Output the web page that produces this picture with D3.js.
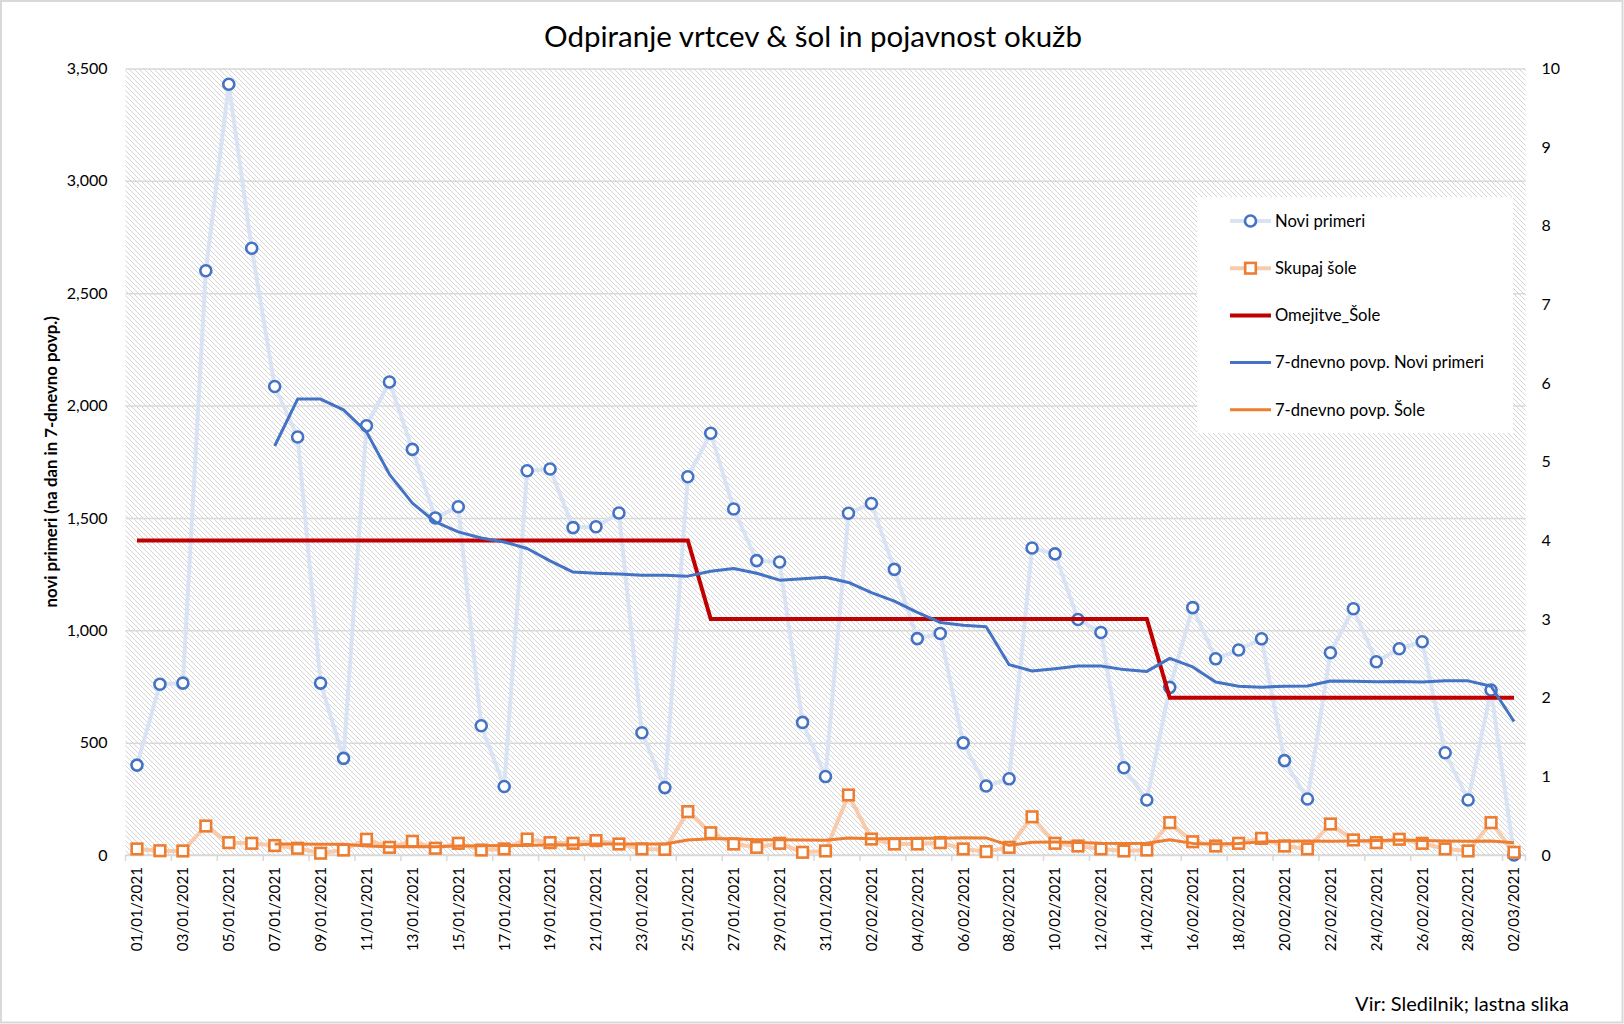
<!DOCTYPE html>
<html><head><meta charset="utf-8">
<script src="https://cdn.jsdelivr.net/npm/d3@7/dist/d3.min.js"></script>
<style>
body{margin:0;background:#fff}
svg{display:block}
text{font-family:Lato,"Noto Sans",sans-serif;fill:#000}
</style>
</head><body>
<svg id="chart" width="1624" height="1024"></svg>
<script>
// ---- data ----
const dates = ["01/01/2021","02/01/2021","03/01/2021","04/01/2021","05/01/2021","06/01/2021","07/01/2021","08/01/2021","09/01/2021","10/01/2021",
"11/01/2021","12/01/2021","13/01/2021","14/01/2021","15/01/2021","16/01/2021","17/01/2021","18/01/2021","19/01/2021","20/01/2021",
"21/01/2021","22/01/2021","23/01/2021","24/01/2021","25/01/2021","26/01/2021","27/01/2021","28/01/2021","29/01/2021","30/01/2021",
"31/01/2021","01/02/2021","02/02/2021","03/02/2021","04/02/2021","05/02/2021","06/02/2021","07/02/2021","08/02/2021","09/02/2021",
"10/02/2021","11/02/2021","12/02/2021","13/02/2021","14/02/2021","15/02/2021","16/02/2021","17/02/2021","18/02/2021","19/02/2021",
"20/02/2021","21/02/2021","22/02/2021","23/02/2021","24/02/2021","25/02/2021","26/02/2021","27/02/2021","28/02/2021","01/03/2021",
"02/03/2021"];

const noviPrimeri = [400,760,765,2600,3430,2700,2085,1860,765,430,
1910,2105,1805,1500,1550,575,305,1710,1718,1457,
1461,1522,544,300,1683,1877,1540,1310,1304,590,
349,1521,1564,1271,963,986,499,307,339,1366,
1340,1048,990,388,245,746,1101,873,912,962,
420,249,900,1096,860,918,949,455,245,734,
0];

const skupajSole = [27,19,18,129,55,52,42,30,8,22,
70,34,61,30,52,22,27,71,55,52,
64,49,27,25,193,99,49,34,52,12,
18,267,71,49,49,55,27,15,34,170,
52,40,27,18,22,144,59,40,52,74,
40,27,138,67,55,70,52,27,18,144,
12];

const omejitveSole = [4,4,4,4,4,4,4,4,4,4,
4,4,4,4,4,4,4,4,4,4,
4,4,4,4,4,3,3,3,3,3,
3,3,3,3,3,3,3,3,3,3,
3,3,3,3,3,2,2,2,2,2,
2,2,2,2,2,2,2,2,2,2,
2];

const avgNovi = [null,null,null,null,null,null,1820,2029,2029,1981,
1883,1694,1566,1482,1438,1411,1393,1364,1309,1259,
1254,1250,1245,1245,1241,1263,1275,1254,1223,1229,
1236,1213,1168,1130,1080,1035,1022,1016,847,819,
829,841,841,825,817,875,837,770,751,747,
751,752,774,773,771,772,770,775,775,751,
594];

const avgSole = [null,null,null,null,null,null,48.9,49.3,47.7,48.3,
39.9,36.9,38.1,36.4,39.6,41.6,42.3,42.4,45.4,44.1,
49.0,48.6,49.3,49.0,66.4,72.7,72.3,68.0,68.4,66.3,
65.3,75.9,71.9,71.9,74.0,74.4,76.6,76.1,42.9,57.0,
57.4,56.1,52.1,50.9,51.9,67.6,51.7,50.0,51.7,58.4,
61.6,62.3,61.4,62.6,64.7,67.3,64.1,62.3,61.0,61.9,
54.0];

const leftTicks = [0,500,1000,1500,2000,2500,3000,3500];
const rightTicks = [0,1,2,3,4,5,6,7,8,9,10];
const xTickLabels = dates.filter((d,i) => i % 2 === 0);
const legendLabels = ["Novi primeri","Skupaj šole","Omejitve_Šole","7-dnevno povp. Novi primeri","7-dnevno povp. Šole"];

const titleText = "Odpiranje vrtcev & šol in pojavnost okužb";
const yTitleText = "novi primeri (na dan in 7-dnevno povp.)";
const sourceText = "Vir: Sledilnik; lastna slika";

// ---- layout ----
const W = 1624, H = 1024;
const L = 125.5, R = 1525.5, T = 68.5, B = 855;
const C = {
  noviLine: "#dae3f3", noviMark: "#4472c4",
  soleLine: "#f8cbad", soleMark: "#ed7d31",
  omej: "#c00000", avgNovi: "#4472c4", avgSole: "#ed7d31",
  grid: "#d9d9d9", hatch: "#d4d4d4"
};

const svg = d3.select("#chart");

// pixel-aligned diagonal hatch pattern (top-left to bottom-right)
const P = 5;
const defs = svg.append("defs");
const pat = defs.append("pattern").attr("id","hatch")
  .attr("patternUnits","userSpaceOnUse").attr("width",P).attr("height",P);
pat.append("rect").attr("width",P).attr("height",P).attr("fill","#fff");
pat.append("path").attr("d",`M-1,-1L${P+1},${P+1}M${P-1},-1L${P+1},1M-1,${P-1}L1,${P+1}`)
  .attr("stroke",C.hatch).attr("stroke-width",1);

// outer frame
svg.append("rect").attr("x",1).attr("y",1).attr("width",W-2.5).attr("height",H-2.5)
  .attr("fill","#fff").attr("stroke","#d9d9d9").attr("stroke-width",2);

const x = d3.scaleBand().domain(dates).range([L,R]).paddingInner(0).paddingOuter(0);
const cx = d => x(d) + x.bandwidth()/2;
const yL = d3.scaleLinear().domain([0,3500]).range([B,T]);
const yR = d3.scaleLinear().domain([0,10]).range([B,T]);

// plot background
svg.append("rect").attr("x",L).attr("y",T).attr("width",R-L).attr("height",B-T).attr("fill","url(#hatch)");

// gridlines
svg.append("g").attr("transform",`translate(${L},0)`)
  .call(d3.axisLeft(yL).tickValues(leftTicks).tickSize(-(R-L)).tickFormat(""))
  .call(g => g.select(".domain").remove())
  .call(g => g.selectAll("line").attr("stroke",C.grid).attr("stroke-width",1.5));

// left axis labels
svg.append("g").attr("transform",`translate(${L},0)`)
  .call(d3.axisLeft(yL).tickValues(leftTicks).tickSize(0).tickPadding(18).tickFormat(d3.format(",")))
  .call(g => g.select(".domain").remove())
  .call(g => g.selectAll("text").attr("font-size",16).attr("font-family","Lato, sans-serif").attr("fill","#000"));

// right axis labels
svg.append("g").attr("transform",`translate(${R},0)`)
  .call(d3.axisRight(yR).tickValues(rightTicks).tickSize(0).tickPadding(16).tickFormat(d3.format("d")))
  .call(g => g.select(".domain").remove())
  .call(g => g.selectAll("text").attr("font-size",16).attr("font-family","Lato, sans-serif").attr("fill","#000"));

// x axis baseline + ticks
const xg = svg.append("g").attr("transform",`translate(0,${B})`);
xg.append("line").attr("x1",L).attr("x2",R).attr("stroke",C.grid).attr("stroke-width",1.5);
xg.selectAll("line.tk").data(xTickLabels.concat([null])).join("line").attr("class","tk")
  .attr("x1",d => d ? x(d) : R).attr("x2",d => d ? x(d) : R)
  .attr("y1",0).attr("y2",6).attr("stroke",C.grid).attr("stroke-width",1.5);
xg.selectAll("text").data(xTickLabels).join("text")
  .attr("transform",d => `translate(${cx(d)},12) rotate(-90)`)
  .attr("text-anchor","end").attr("dy","0.35em")
  .attr("font-size",15.2).text(d => d);

// y title
svg.append("text").attr("transform",`translate(57,${(T+B)/2}) rotate(-90)`)
  .attr("text-anchor","middle").attr("font-size",16.8).attr("font-weight","bold").text(yTitleText);

// title
svg.append("text").attr("x",813).attr("y",47).attr("text-anchor","middle")
  .attr("font-size",29.5).text(titleText);

// source
svg.append("text").attr("x",1569).attr("y",1011).attr("text-anchor","end")
  .attr("font-size",20).text(sourceText);

// series lines
const lineL = d3.line().x((d,i) => cx(dates[i])).y(d => yL(d)).defined(d => d != null);
const lineR = d3.line().x((d,i) => cx(dates[i])).y(d => yR(d));

const gS = svg.append("g");
gS.append("path").datum(noviPrimeri).attr("d",lineL).attr("fill","none")
  .attr("stroke",C.noviLine).attr("stroke-width",4).attr("stroke-linejoin","round");
gS.selectAll("circle.np").data(noviPrimeri).join("circle").attr("class","np")
  .attr("cx",(d,i) => cx(dates[i])).attr("cy",d => yL(d)).attr("r",5.5)
  .attr("fill","#fff").attr("stroke",C.noviMark).attr("stroke-width",2.6);

gS.append("path").datum(skupajSole).attr("d",lineL).attr("fill","none")
  .attr("stroke",C.soleLine).attr("stroke-width",4).attr("stroke-linejoin","round");
gS.selectAll("rect.ss").data(skupajSole).join("rect").attr("class","ss")
  .attr("x",(d,i) => cx(dates[i]) - 5.3).attr("y",d => yL(d) - 5.3)
  .attr("width",10.6).attr("height",10.6)
  .attr("fill","#fff").attr("stroke",C.soleMark).attr("stroke-width",2.6);

gS.append("path").datum(omejitveSole).attr("d",lineR).attr("fill","none")
  .attr("stroke",C.omej).attr("stroke-width",4);

gS.append("path").datum(avgNovi).attr("d",lineL).attr("fill","none")
  .attr("stroke",C.avgNovi).attr("stroke-width",3).attr("stroke-linejoin","round");
gS.append("path").datum(avgSole).attr("d",lineL).attr("fill","none")
  .attr("stroke",C.avgSole).attr("stroke-width",3).attr("stroke-linejoin","round");

// legend
const lg = svg.append("g");
lg.append("rect").attr("x",1197).attr("y",197).attr("width",316).attr("height",236).attr("fill","#fff");
const rowY = i => 221 + i*47.2;
const lx1 = 1230, lx2 = 1271, lmx = 1250.5;
const legendStyle = [
  {stroke:C.noviLine, w:4, marker:"circle"},
  {stroke:C.soleLine, w:4, marker:"square"},
  {stroke:C.omej, w:4},
  {stroke:C.avgNovi, w:3},
  {stroke:C.avgSole, w:3}
];
legendLabels.forEach((lab,i) => {
  const s = legendStyle[i], y = rowY(i);
  lg.append("line").attr("x1",lx1).attr("x2",lx2).attr("y1",y).attr("y2",y)
    .attr("stroke",s.stroke).attr("stroke-width",s.w);
  if (s.marker === "circle") {
    lg.append("circle").attr("cx",lmx).attr("cy",y).attr("r",5.5)
      .attr("fill","#fff").attr("stroke",C.noviMark).attr("stroke-width",2.6);
  } else if (s.marker === "square") {
    lg.append("rect").attr("x",lmx-5.3).attr("y",y-5.3).attr("width",10.6).attr("height",10.6)
      .attr("fill","#fff").attr("stroke",C.soleMark).attr("stroke-width",2.6);
  }
  lg.append("text").attr("x",1275).attr("y",y).attr("dy","0.35em").attr("font-size",16.6).text(lab);
});
</script>
</body></html>
